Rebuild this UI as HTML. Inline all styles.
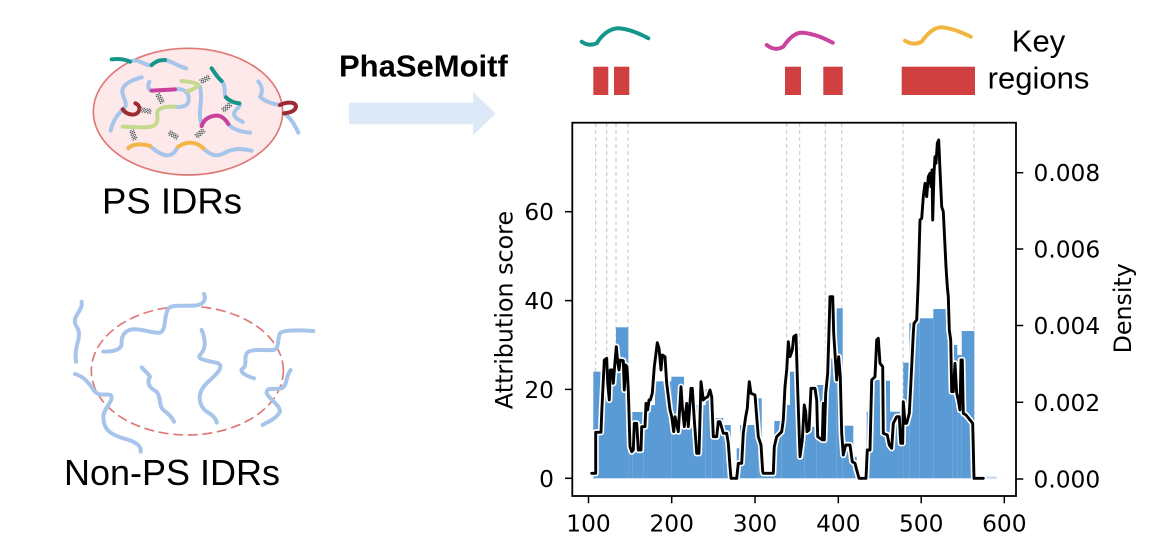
<!DOCTYPE html>
<html>
<head>
<meta charset="utf-8">
<style>
html,body{margin:0;padding:0;background:#fff;}
body{width:1152px;height:554px;overflow:hidden;}
svg{display:block;}
</style>
</head>
<body>
<svg width="1152" height="554" viewBox="0 0 1152 554" xmlns="http://www.w3.org/2000/svg">
<defs>
  <pattern id="chk" patternUnits="userSpaceOnUse" width="8" height="8">
    <rect width="8" height="8" fill="#f4f4f4"/>
    <rect width="4" height="4" fill="#555"/>
    <rect x="4" y="4" width="4" height="4" fill="#555"/>
  </pattern>
</defs>

<!-- ===== Top-left: PS IDRs ===== -->
<g transform="translate(60,20) scale(0.33333)" fill="none" stroke-linecap="round" stroke-linejoin="round">
  <ellipse cx="384" cy="275" rx="284" ry="190" fill="#fde9e9" stroke="#e07878" stroke-width="5"/>
  <g stroke="#a7c4ea" stroke-width="12">
    <path d="M210,125 C235,112 255,140 275,135"/>
    <path d="M315,120 C340,125 355,140 378,145"/>
    <path d="M245,172 C215,180 180,195 188,222 C195,245 205,255 188,268"/>
    <path d="M188,270 C170,285 158,305 152,332"/>
    <path d="M485,183 C500,200 490,225 498,232"/>
    <path d="M538,250 C545,262 520,268 522,285 C528,298 540,300 548,306"/>
    <path d="M268,185 C262,200 265,210 275,212"/>
    <path d="M345,208 C370,205 388,215 386,240 C384,262 360,262 345,260"/>
    <path d="M420,200 C428,235 418,260 420,290 C422,305 425,315 425,318"/>
    <path d="M505,312 C520,330 545,335 570,338"/>
    <path d="M595,185 C612,205 605,222 600,230 C615,245 640,252 660,255"/>
    <path d="M672,280 C690,292 705,315 715,338"/>
    <path d="M270,378 C295,400 320,415 340,400 C348,392 350,385 355,380"/>
    <path d="M430,385 C455,410 475,410 495,398 C520,385 545,385 575,392"/>
  </g>
  <g stroke-width="12">
    <path d="M155,118 C180,115 195,118 210,125" stroke="#16968b"/>
    <path d="M275,135 C290,122 300,120 315,120" stroke="#16968b"/>
    <path d="M455,145 C465,160 475,175 485,183" stroke="#16968b"/>
    <path d="M498,232 C510,245 525,248 538,250" stroke="#16968b"/>
    <path d="M188,268 C200,285 230,292 238,270 C240,258 232,252 226,250" stroke="#9e2a33"/>
    <path d="M660,255 C680,245 705,245 708,258 C708,272 690,278 672,280" stroke="#9e2a33"/>
    <path d="M275,212 L345,208" stroke="#c8409c"/>
    <path d="M425,318 C432,295 455,285 475,287 C490,290 498,300 505,312" stroke="#c8409c"/>
    <path d="M365,183 C390,185 408,188 415,195 C405,205 395,212 382,213" stroke="#c5d98f"/>
    <path d="M345,260 C300,258 288,268 292,290 C296,318 275,322 250,322 L188,320" stroke="#c5d98f"/>
    <path d="M205,385 C215,372 245,370 270,378" stroke="#f3b544"/>
    <path d="M355,380 C380,362 410,365 430,385" stroke="#f3b544"/>
  </g>
  <g fill="url(#chk)">
    <rect x="-16" y="-8" width="32" height="16" transform="translate(435,178) rotate(-30)"/>
    <rect x="-16" y="-8" width="32" height="16" transform="translate(300,235) rotate(60)"/>
    <rect x="-16" y="-8" width="32" height="16" transform="translate(258,272) rotate(10)"/>
    <rect x="-16" y="-8" width="32" height="16" transform="translate(500,262) rotate(-40)"/>
    <rect x="-16" y="-8" width="32" height="16" transform="translate(220,345) rotate(70)"/>
    <rect x="-16" y="-8" width="32" height="16" transform="translate(340,345) rotate(30)"/>
    <rect x="-16" y="-8" width="32" height="16" transform="translate(420,340) rotate(-40)"/>
  </g>
</g>
<text x="102" y="213.3" font-family="Liberation Sans, Arial, sans-serif" font-size="36.5" fill="#000">PS IDRs</text>

<!-- ===== Bottom-left: Non-PS IDRs ===== -->
<g transform="translate(50,280) scale(0.33333)" fill="none" stroke-linecap="round" stroke-linejoin="round">
  <ellipse cx="412" cy="272" rx="288" ry="193" stroke="#e07878" stroke-width="5" stroke-dasharray="26 18"/>
  <g stroke="#a7c4ea" stroke-width="12">
    <path d="M95,65 C100,95 60,110 80,140 C100,170 70,195 78,245"/>
    <path d="M160,215 C200,215 215,205 215,190 C212,160 235,145 260,148 C290,150 310,160 330,158 C350,150 340,110 355,85 C370,72 400,80 440,76 C465,72 468,55 462,42"/>
    <path d="M455,150 C470,185 465,210 450,225 C440,240 470,240 505,250 C525,265 490,290 470,310 C435,345 450,380 470,395 C490,405 500,420 500,428"/>
    <path d="M275,262 C290,280 300,285 300,290 C285,315 310,330 320,335 C335,355 325,375 340,390 C360,405 368,415 372,425"/>
    <path d="M75,282 C105,290 120,315 135,335 C150,350 165,340 182,345 C195,360 160,385 160,410 C160,440 170,460 220,475 C260,485 275,500 272,515"/>
    <path d="M790,153 C740,150 700,150 690,160 C680,180 690,205 670,210 C640,212 600,205 590,220 C580,240 595,255 575,268 C570,280 600,292 612,295"/>
    <path d="M722,270 C705,290 715,312 695,325 C670,330 648,320 650,340 C660,360 690,375 690,395 C680,415 655,425 638,435"/>
  </g>
</g>
<text x="64" y="485" font-family="Liberation Sans, Arial, sans-serif" font-size="36" fill="#000">Non-PS IDRs</text>

<!-- ===== Arrow + PhaSeMoitf ===== -->
<text x="339" y="76.7" font-family="Liberation Sans, Arial, sans-serif" font-size="31" font-weight="bold" fill="#000">PhaSeMoitf</text>
<rect x="349" y="102.7" width="125" height="21.6" fill="#dde9f6"/>
<polygon points="473,91.7 495.7,113.5 473,135.3" fill="#dde9f6"/>

<!-- ===== Key regions ===== -->
<g fill="none" stroke-width="4" stroke-linecap="round">
  <path d="M581.7,41.7 Q588.3,46.7 596.7,43.3 Q605,30 616.7,28.3 Q630,28.3 648.3,38.3" stroke="#14968b"/>
  <path d="M766.7,45 Q775,51.7 783.3,46.7 Q793.3,31.7 803.3,32.7 Q816.7,34 832.7,42.7" stroke="#c8449e"/>
  <path d="M905,40.7 Q913.3,46 921.7,41.7 Q931.7,27.3 941.7,27.3 Q953.3,28.3 970.7,36.7" stroke="#f2b541"/>
</g>
<g fill="#d04040">
  <rect x="593.3" y="66.7" width="15" height="28.3"/>
  <rect x="614" y="66.7" width="15.3" height="28.3"/>
  <rect x="785" y="66.7" width="16" height="28.3"/>
  <rect x="823.3" y="66.7" width="19.4" height="28.3"/>
  <rect x="901.7" y="66.7" width="73.3" height="28.3"/>
</g>
<text x="1038.5" y="51.7" text-anchor="middle" font-family="Liberation Sans, Arial, sans-serif" font-size="31" fill="#000">Key</text>
<text x="1038.5" y="88.5" text-anchor="middle" font-family="Liberation Sans, Arial, sans-serif" font-size="31" fill="#000">regions</text>

<!-- ===== Chart ===== -->
<g stroke="#c4c4c4" stroke-width="1" stroke-dasharray="4 3">
  <line x1="595.7" y1="123" x2="595.7" y2="478"/>
  <line x1="606.7" y1="123" x2="606.7" y2="478"/>
  <line x1="616" y1="123" x2="616" y2="478"/>
  <line x1="628" y1="123" x2="628" y2="478"/>
  <line x1="786.7" y1="123" x2="786.7" y2="478"/>
  <line x1="799.7" y1="123" x2="799.7" y2="478"/>
  <line x1="825.3" y1="123" x2="825.3" y2="478"/>
  <line x1="841.7" y1="123" x2="841.7" y2="478"/>
  <line x1="903" y1="123" x2="903" y2="478"/>
  <line x1="974" y1="123" x2="974" y2="478"/>
</g>

<!-- histogram bars -->
<g fill="#5b9bd5">
  <rect x="593.3" y="371.7" width="7.7" height="106.6"/>
  <rect x="601" y="382" width="15" height="96.3"/>
  <rect x="616" y="327.3" width="12.3" height="151"/>
  <rect x="628.3" y="416" width="4" height="62.3"/>
  <rect x="632.3" y="412" width="11" height="66.3"/>
  <rect x="643.3" y="405" width="11.7" height="73.3"/>
  <rect x="655" y="381.3" width="16.3" height="97"/>
  <rect x="671.3" y="376.7" width="12.7" height="101.6"/>
  <rect x="684" y="405" width="21.7" height="73.3"/>
  <rect x="705.7" y="389.3" width="6" height="89"/>
  <rect x="711.7" y="418" width="11.6" height="60.3"/>
  <rect x="723.3" y="425" width="7.4" height="53.3"/>
  <rect x="736.7" y="448.3" width="3.3" height="30"/>
  <rect x="740" y="425" width="18.3" height="53.3"/>
  <rect x="758.3" y="398.3" width="3.4" height="80"/>
  <rect x="761.7" y="474" width="12.6" height="4.3"/>
  <rect x="774.3" y="421" width="7.4" height="57.3"/>
  <rect x="781.7" y="405" width="8.3" height="73.3"/>
  <rect x="790" y="371.7" width="10" height="106.6"/>
  <rect x="800" y="435" width="4.3" height="43.3"/>
  <rect x="804.3" y="426.7" width="12.4" height="51.6"/>
  <rect x="816.7" y="385" width="8.3" height="93.3"/>
  <rect x="825" y="358.3" width="11.7" height="120"/>
  <rect x="836.7" y="308.3" width="6" height="170"/>
  <rect x="842.7" y="425.7" width="10.6" height="52.6"/>
  <rect x="853.3" y="456.7" width="3.4" height="21.6"/>
  <rect x="866.7" y="411.7" width="3.3" height="66.6"/>
  <rect x="870" y="380" width="16" height="98.3"/>
  <rect x="886" y="380.7" width="4" height="97.6"/>
  <rect x="890" y="411.7" width="13.3" height="66.6"/>
  <rect x="903.3" y="362.7" width="6" height="115.6"/>
  <rect x="909.3" y="323" width="10" height="155.3"/>
  <rect x="919.3" y="318.3" width="14" height="160"/>
  <rect x="933.3" y="309" width="12.7" height="169.3"/>
  <rect x="946" y="331" width="6.7" height="147.3"/>
  <rect x="952.7" y="345" width="4.6" height="133.3"/>
  <rect x="957.3" y="355" width="4.4" height="123.3"/>
  <rect x="961.7" y="331" width="12.6" height="147.3"/>
</g>
<rect x="986.7" y="476.8" width="10" height="1.6" fill="#b5d0ee"/>

<!-- density line -->
<g fill="none" stroke-linejoin="round" stroke-linecap="round">
<polyline stroke="#ffffff" stroke-width="6.2" points="591.7,473.3 595.7,473.3 595.7,432.3 601,432.3 601.7,413.3 604.3,360 606.7,358.3 607.7,383.3 609.3,400 610.3,370 612.3,370 613.3,383.3 615,361.7 616.3,346.7 617.7,361.7 619,370 620.3,360 623.3,360.7 624.3,390 625.7,365 627,366.7 628.3,390 630,446.7 631.7,451.7 633.3,450 634.3,423.3 636.7,423.3 638.3,450 641,450 641.7,426.7 645,426.7 646,403.3 647.7,410 649,400 650.3,400 652.3,393.3 654.3,366.7 656,353.3 657.3,342.7 659,348.3 661,370 662.3,355 665,356.7 666.7,383.3 670,410 671.7,416.7 673.7,431.7 675,416.7 678.3,431.7 681,386.7 682.3,406.7 684.3,426.7 686.7,403.3 688.3,426.7 691,388.3 692.3,388.3 694.3,420 696.7,453.3 699,453.3 701,381.7 703.3,400 705,398.3 707.7,396.7 710,390 711.7,396.7 713.3,436.7 716.7,436.7 718.3,421.7 720,421.7 723.3,433.3 726.7,433.3 728.3,443.3 730,466.7 731,478.3 736.7,478.3 738.3,463.3 741.7,463.3 743.3,433.3 745.7,416.7 747.3,408.3 748.3,393.3 749.3,381.7 751,393.3 755,395 756.7,416.7 758.3,436.7 761,445 762.7,471.7 763.3,473.3 773.3,473.3 774.3,446.7 776.7,436.7 781.7,431.7 783.3,420 785,386.7 786.7,370 788.3,341.7 790,356.7 792.3,350 793.7,336.7 796,335 797.7,390 800,456.7 802.3,440 804.3,405 805.7,411.7 807,431.7 809,430 811,388.3 815,388.3 816.7,400 817.7,436.7 822.3,440 823.3,403.3 824.3,440 825.7,393.3 827.7,373.3 829,330 830,296.7 832.7,296.7 833.7,333.3 836.7,380 838.7,356.7 840.3,376.7 841.7,433.3 843.3,455 845.7,445 850,445 852.3,461.7 855,463.3 856.7,470 859,478.3 866,478.3 867.3,450 870,450 871.7,380 875,376.7 876.7,340 878.3,338.3 880,363.3 882.7,366.7 883.3,433.3 887.3,435 889.3,445 891.7,448.3 893.3,423.3 896.7,416.7 899.3,416.7 900.7,443.3 902.7,443.3 903.3,401.7 905,423.3 906.7,423.3 909.3,413.3 910.7,386.7 913.3,333.3 914,323.3 916.7,320 918.3,280 920,220 921.7,218.3 923.3,196.7 925,183.3 926.7,196.7 928.3,176.7 930,173.3 931,186.7 932,170 932.7,220 934,173.3 935,156.7 936,163.3 937.3,143.3 938.7,140 940,170 941.7,206.7 943.3,211.7 946,266.7 947.3,286.7 948.3,296.7 949.3,330 950.7,340 951.7,391.7 953.3,391.7 955,363.3 956.7,393.3 958.3,400 960,410 961,360 962.3,360 963.3,413.3 966,415 970,420 972.7,423.3 974,478.3 983.3,478.3"/>
<polyline stroke="#000000" stroke-width="2.9" points="591.7,473.3 595.7,473.3 595.7,432.3 601,432.3 601.7,413.3 604.3,360 606.7,358.3 607.7,383.3 609.3,400 610.3,370 612.3,370 613.3,383.3 615,361.7 616.3,346.7 617.7,361.7 619,370 620.3,360 623.3,360.7 624.3,390 625.7,365 627,366.7 628.3,390 630,446.7 631.7,451.7 633.3,450 634.3,423.3 636.7,423.3 638.3,450 641,450 641.7,426.7 645,426.7 646,403.3 647.7,410 649,400 650.3,400 652.3,393.3 654.3,366.7 656,353.3 657.3,342.7 659,348.3 661,370 662.3,355 665,356.7 666.7,383.3 670,410 671.7,416.7 673.7,431.7 675,416.7 678.3,431.7 681,386.7 682.3,406.7 684.3,426.7 686.7,403.3 688.3,426.7 691,388.3 692.3,388.3 694.3,420 696.7,453.3 699,453.3 701,381.7 703.3,400 705,398.3 707.7,396.7 710,390 711.7,396.7 713.3,436.7 716.7,436.7 718.3,421.7 720,421.7 723.3,433.3 726.7,433.3 728.3,443.3 730,466.7 731,478.3 736.7,478.3 738.3,463.3 741.7,463.3 743.3,433.3 745.7,416.7 747.3,408.3 748.3,393.3 749.3,381.7 751,393.3 755,395 756.7,416.7 758.3,436.7 761,445 762.7,471.7 763.3,473.3 773.3,473.3 774.3,446.7 776.7,436.7 781.7,431.7 783.3,420 785,386.7 786.7,370 788.3,341.7 790,356.7 792.3,350 793.7,336.7 796,335 797.7,390 800,456.7 802.3,440 804.3,405 805.7,411.7 807,431.7 809,430 811,388.3 815,388.3 816.7,400 817.7,436.7 822.3,440 823.3,403.3 824.3,440 825.7,393.3 827.7,373.3 829,330 830,296.7 832.7,296.7 833.7,333.3 836.7,380 838.7,356.7 840.3,376.7 841.7,433.3 843.3,455 845.7,445 850,445 852.3,461.7 855,463.3 856.7,470 859,478.3 866,478.3 867.3,450 870,450 871.7,380 875,376.7 876.7,340 878.3,338.3 880,363.3 882.7,366.7 883.3,433.3 887.3,435 889.3,445 891.7,448.3 893.3,423.3 896.7,416.7 899.3,416.7 900.7,443.3 902.7,443.3 903.3,401.7 905,423.3 906.7,423.3 909.3,413.3 910.7,386.7 913.3,333.3 914,323.3 916.7,320 918.3,280 920,220 921.7,218.3 923.3,196.7 925,183.3 926.7,196.7 928.3,176.7 930,173.3 931,186.7 932,170 932.7,220 934,173.3 935,156.7 936,163.3 937.3,143.3 938.7,140 940,170 941.7,206.7 943.3,211.7 946,266.7 947.3,286.7 948.3,296.7 949.3,330 950.7,340 951.7,391.7 953.3,391.7 955,363.3 956.7,393.3 958.3,400 960,410 961,360 962.3,360 963.3,413.3 966,415 970,420 972.7,423.3 974,478.3 983.3,478.3"/>
</g>

<!-- frame -->
<rect x="572.3" y="122.7" width="443.7" height="373.3" fill="none" stroke="#000" stroke-width="1.8"/>

<!-- ticks -->
<g stroke="#000" stroke-width="1.5">
  <line x1="565" y1="478.3" x2="572.3" y2="478.3"/>
  <line x1="565" y1="389.4" x2="572.3" y2="389.4"/>
  <line x1="565" y1="300.6" x2="572.3" y2="300.6"/>
  <line x1="565" y1="211.7" x2="572.3" y2="211.7"/>
  <line x1="1016" y1="479" x2="1023.3" y2="479"/>
  <line x1="1016" y1="402.3" x2="1023.3" y2="402.3"/>
  <line x1="1016" y1="325.5" x2="1023.3" y2="325.5"/>
  <line x1="1016" y1="249" x2="1023.3" y2="249"/>
  <line x1="1016" y1="172.7" x2="1023.3" y2="172.7"/>
  <line x1="588.5" y1="496" x2="588.5" y2="503.3"/>
  <line x1="671.7" y1="496" x2="671.7" y2="503.3"/>
  <line x1="755" y1="496" x2="755" y2="503.3"/>
  <line x1="838.3" y1="496" x2="838.3" y2="503.3"/>
  <line x1="921.2" y1="496" x2="921.2" y2="503.3"/>
  <line x1="1004.3" y1="496" x2="1004.3" y2="503.3"/>
</g>

<g font-family="DejaVu Sans, sans-serif" font-size="23.3" fill="#000">
  <g text-anchor="end">
    <text x="554" y="486.8">0</text>
    <text x="554" y="397.9">20</text>
    <text x="554" y="309.1">40</text>
    <text x="554" y="220.2">60</text>
  </g>
  <g text-anchor="start">
    <text x="1033.5" y="487.5">0.000</text>
    <text x="1033.5" y="410.8">0.002</text>
    <text x="1033.5" y="334">0.004</text>
    <text x="1033.5" y="257.5">0.006</text>
    <text x="1033.5" y="181.2">0.008</text>
  </g>
  <g text-anchor="middle">
    <text x="588.5" y="531.7">100</text>
    <text x="671.7" y="531.7">200</text>
    <text x="755" y="531.7">300</text>
    <text x="838.3" y="531.7">400</text>
    <text x="921.2" y="531.7">500</text>
    <text x="1004.3" y="531.7">600</text>
  </g>
</g>
<text x="512.7" y="310" transform="rotate(-90 512.7 310)" text-anchor="middle" font-family="DejaVu Sans, sans-serif" font-size="23.8" fill="#000">Attribution score</text>
<text x="1131" y="308.3" transform="rotate(-90 1131 308.3)" text-anchor="middle" font-family="DejaVu Sans, sans-serif" font-size="23.7" fill="#000">Density</text>
</svg>
</body>
</html>
